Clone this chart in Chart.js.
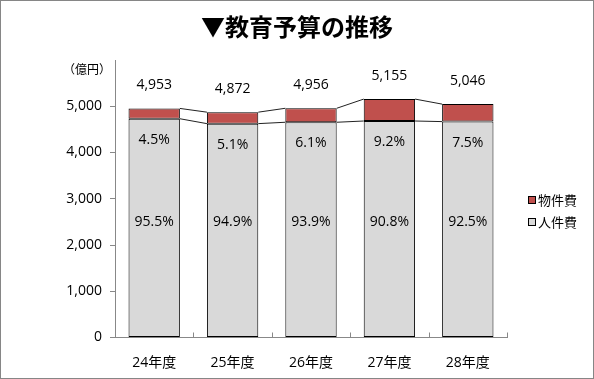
<!DOCTYPE html>
<html>
<head>
<meta charset="utf-8">
<script src="https://cdn.jsdelivr.net/npm/chart.js@4"></script>
<style>
html,body{margin:0;padding:0;background:#fff;}
#wrap{width:594px;height:379px;position:relative;}
</style>
</head>
<body>
<div id="wrap"><canvas id="c" width="594" height="379"></canvas></div>
<script>
const categories = ['24年度', '25年度', '26年度', '27年度', '28年度'];
const personnel = [4730, 4624, 4654, 4681, 4668];   // 人件費
const goods = [223, 248, 302, 474, 378];            // 物件費
const totals = [4953, 4872, 4956, 5155, 5046];
const goodsPct = ['4.5%', '5.1%', '6.1%', '9.2%', '7.5%'];
const personnelPct = ['95.5%', '94.9%', '93.9%', '90.8%', '92.5%'];
const yTicks = [0, 1000, 2000, 3000, 4000, 5000, 6000];

const FONT = "'Open Sans', 'Noto Sans CJK JP', sans-serif";
const JP = "'Noto Sans CJK JP', sans-serif";

const overlay = {
  id: 'overlay',
  beforeDraw(chart) {
    const ctx = chart.ctx;
    ctx.save();
    ctx.fillStyle = '#fff';
    ctx.fillRect(0, 0, chart.width, chart.height);
    ctx.restore();
  },
  afterDatasetsDraw(chart) {
    const ctx = chart.ctx;
    const y = chart.scales.y;
    const m0 = chart.getDatasetMeta(0);
    const m1 = chart.getDatasetMeta(1);
    ctx.save();
    // series lines
    ctx.strokeStyle = '#222';
    ctx.lineWidth = 1;
    for (let i = 0; i < categories.length - 1; i++) {
      const a0 = m0.data[i], b0 = m0.data[i + 1];
      const a1 = m1.data[i], b1 = m1.data[i + 1];
      ctx.beginPath();
      ctx.moveTo(a0.x + a0.width / 2, a0.y);
      ctx.lineTo(b0.x - b0.width / 2, b0.y);
      ctx.moveTo(a1.x + a1.width / 2, a1.y);
      ctx.lineTo(b1.x - b1.width / 2, b1.y);
      ctx.stroke();
    }
    // x-axis inward ticks at category boundaries
    const x = chart.scales.x;
    ctx.strokeStyle = '#888';
    const step = (x.right - x.left) / categories.length;
    for (let i = 1; i <= categories.length; i++) {
      const px = Math.round(x.left + step * i) + 0.5;
      ctx.beginPath();
      ctx.moveTo(px, y.bottom);
      ctx.lineTo(px, y.bottom - 5);
      ctx.stroke();
    }
    // labels
    ctx.fillStyle = '#000';
    ctx.textAlign = 'center';
    ctx.textBaseline = 'middle';
    ctx.font = '14px ' + FONT;
    for (let i = 0; i < categories.length; i++) {
      const bx = m0.data[i].x;
      const topY = y.getPixelForValue(personnel[i] + goods[i]);
      const grayTop = y.getPixelForValue(personnel[i]);
      ctx.fillText(totals[i].toLocaleString('en-US'), bx, topY - 23);
      ctx.fillText(goodsPct[i], bx, grayTop + 21);
      ctx.fillText(personnelPct[i], bx, y.getPixelForValue(2500));
    }
    ctx.restore();
  },
  afterDraw(chart) {
    const ctx = chart.ctx;
    ctx.save();
    // title
    ctx.fillStyle = '#000';
    ctx.textAlign = 'center';
    ctx.textBaseline = 'middle';
    ctx.font = 'bold 24px ' + JP;
    ctx.fillText('▼教育予算の推移', 297, 27);
    // unit
    ctx.font = '12px ' + JP;
    ctx.textAlign = 'right';
    ctx.fillText('（億円）', 111, 69);
    // legend
    ctx.textAlign = 'left';
    ctx.font = '13px ' + JP;
    const items = [
      { label: '物件費', color: '#c0504d', y: 200 },
      { label: '人件費', color: '#d9d9d9', y: 222 }
    ];
    items.forEach(it => {
      ctx.fillStyle = it.color;
      ctx.fillRect(528.5, it.y - 3.5, 7, 7);
      ctx.strokeStyle = '#000';
      ctx.lineWidth = 1;
      ctx.strokeRect(528.5, it.y - 3.5, 7, 7);
      ctx.fillStyle = '#000';
      ctx.fillText(it.label, 538, it.y);
    });
    // outer border
    ctx.strokeStyle = '#868686';
    ctx.lineWidth = 1;
    ctx.strokeRect(0.5, 0.5, chart.width - 1, chart.height - 1);
    ctx.restore();
  }
};

new Chart(document.getElementById('c'), {
  type: 'bar',
  data: {
    labels: categories,
    datasets: [
      { label: '人件費', data: personnel, backgroundColor: '#d9d9d9', borderColor: '#000', borderWidth: 1, borderSkipped: false },
      { label: '物件費', data: goods, backgroundColor: '#c0504d', borderColor: '#000', borderWidth: 1, borderSkipped: false }
    ]
  },
  options: {
    responsive: false,
    animation: false,
    devicePixelRatio: 1,
    layout: { padding: { left: 0, right: 87, top: 60, bottom: 0 } },
    plugins: { legend: { display: false }, title: { display: false }, tooltip: { enabled: false } },
    datasets: { bar: { categoryPercentage: 1, barPercentage: 0.655 } },
    scales: {
      x: {
        stacked: true,
        grid: { display: false },
        border: { display: true, color: '#888', width: 1 },
        ticks: { color: '#000', font: { size: 14, family: FONT }, padding: 9 },
        afterFit(s) { s.height = 41.5; }
      },
      y: {
        stacked: true,
        min: 0, max: 6000,
        afterBuildTicks(s) { s.ticks = yTicks.map(v => ({ value: v })); },
        grid: {
          drawOnChartArea: false, drawTicks: true, tickLength: 5,
          color: ctx => (ctx.tick && ctx.tick.value === 6000) ? 'rgba(0,0,0,0)' : '#888'
        },
        border: { display: true, color: '#888', width: 1 },
        ticks: {
          color: '#000', font: { size: 14, family: FONT }, padding: 8,
          callback: v => v === 6000 ? '' : v.toLocaleString('en-US')
        },
        afterFit(s) { s.width = 115; }
      }
    }
  },
  plugins: [overlay]
});
</script>
</body>
</html>
